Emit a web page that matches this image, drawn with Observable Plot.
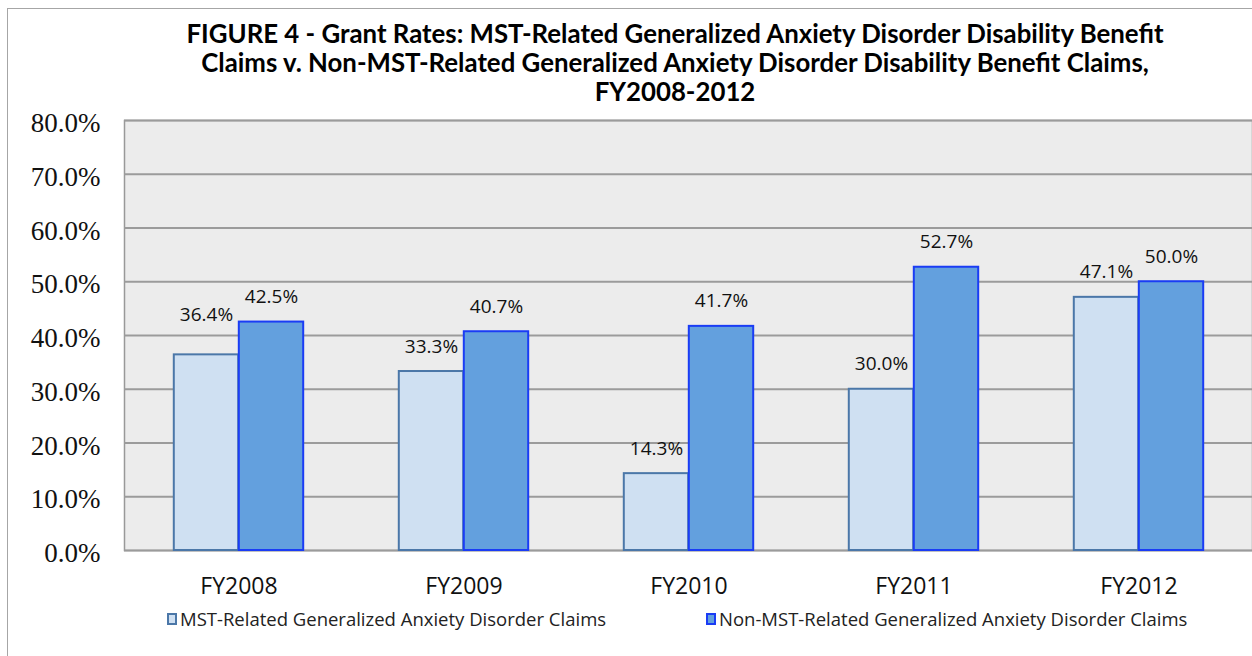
<!DOCTYPE html>
<html>
<head>
<meta charset="utf-8">
<script src="https://cdn.jsdelivr.net/npm/d3@7"></script>
<script src="https://cdn.jsdelivr.net/npm/@observablehq/plot@0.6"></script>
<style>
  html, body { margin: 0; padding: 0; background: #fff; }
  #wrap { position: relative; width: 1252px; height: 656px; overflow: hidden; }
  #border { position: absolute; left: 7px; top: 8px; width: 1260px; height: 660px; border: 1.5px solid #a6a6a6; box-sizing: border-box; }
  #title { position: absolute; left: 175px; width: 1000px; top: 19px; text-align: center;
    font-family: Lato, "Open Sans", sans-serif; font-weight: 700; font-size: 25.8px; line-height: 29px; color: #000; white-space: nowrap; }
  #chart { position: absolute; left: 0; top: 0; }
  #legend { position: absolute; top: 606px; left: 0; width: 1252px; font-family: "Open Sans", sans-serif; font-size: 18.5px; color: #222; }
  .item { position: absolute; display: flex; align-items: center; white-space: nowrap; }
  .sw { width: 10px; height: 12px; box-sizing: border-box; border: 2px solid; margin-right: 3px; }
</style>
</head>
<body>
<div id="wrap">
  <div id="border"></div>
  <div id="title"></div>
  <div id="chart"></div>
  <div id="legend"></div>
</div>
<script>
const titleLines = [
  "FIGURE 4 - Grant Rates: MST-Related Generalized Anxiety Disorder Disability Benefit",
  "Claims v. Non-MST-Related Generalized Anxiety Disorder Disability Benefit  Claims,",
  "FY2008-2012"
];
const years = ["FY2008", "FY2009", "FY2010", "FY2011", "FY2012"];
const seriesNames = [
  "MST-Related Generalized Anxiety Disorder Claims",
  "Non-MST-Related Generalized Anxiety Disorder Claims"
];
const mstValues = [36.4, 33.3, 14.3, 30.0, 47.1];
const nonMstValues = [42.5, 40.7, 41.7, 52.7, 50.0];
const yTicks = [0, 10, 20, 30, 40, 50, 60, 70, 80];

const fills = ["#cfe0f2", "#63a0de"];
const strokes = ["#4b77a8", "#1a3cf5"];

document.getElementById("title").innerHTML = titleLines.join("<br>");

const mst = years.map((y, i) => ({year: y, value: mstValues[i]}));
const non = years.map((y, i) => ({year: y, value: nonMstValues[i]}));

const W = 1252, mL = 124, mR = 0;
const step = (W - mL - mR) / years.length;
const barW = 65;
const half = step / 2;
const fmt = d => d.toFixed(1) + "%";

const chart = Plot.plot({
  width: W,
  height: 620,
  marginTop: 120,
  marginBottom: 70,
  marginLeft: mL,
  marginRight: mR,
  x: {domain: years, padding: 0, axis: null, label: null},
  y: {domain: [0, 80], axis: null, label: null},
  style: {background: "transparent", overflow: "visible"},
  marks: [
    Plot.frame({fill: "#ececec", stroke: "#999", strokeWidth: 1.5}),
    Plot.gridY(yTicks, {stroke: "#9b9b9b", strokeOpacity: 1, strokeWidth: 2}),
    Plot.barY(mst, {x: "year", y: "value", fill: fills[0], stroke: strokes[0], strokeWidth: 2,
      insetLeft: half - barW, insetRight: half}),
    Plot.barY(non, {x: "year", y: "value", fill: fills[1], stroke: strokes[1], strokeWidth: 2,
      insetLeft: half, insetRight: half - barW}),
    Plot.text(mst.filter(d => d.year !== "FY2008"), {x: "year", y: "value", text: d => fmt(d.value), dx: -barW / 2, dy: -19,
      lineAnchor: "bottom", fontFamily: "Open Sans", fontSize: 19, fill: "#111"}),
    Plot.text(mst.filter(d => d.year === "FY2008"), {x: "year", y: "value", text: d => fmt(d.value), dx: -barW / 2, dy: -34,
      lineAnchor: "bottom", fontFamily: "Open Sans", fontSize: 19, fill: "#111"}),
    Plot.text(non, {x: "year", y: "value", text: d => fmt(d.value), dx: barW / 2, dy: -19,
      lineAnchor: "bottom", fontFamily: "Open Sans", fontSize: 19, fill: "#111"}),
    Plot.axisY({ticks: yTicks, tickFormat: fmt, tickSize: 0, tickPadding: 24, dy: 3, label: null,
      fontFamily: "Liberation Serif", fontSize: 27, fill: "#111"}),
    Plot.axisX({tickSize: 0, tickPadding: 27, label: null, fontFamily: "Open Sans", fontSize: 23, fill: "#111"})
  ]
});
document.getElementById("chart").appendChild(chart);

const legend = document.getElementById("legend");
const legendX = [167, 706];
seriesNames.forEach((name, i) => {
  const it = document.createElement("div");
  it.className = "item";
  it.style.left = legendX[i] + "px";
  const sw = document.createElement("div");
  sw.className = "sw";
  sw.style.background = fills[i];
  sw.style.borderColor = strokes[i];
  const tx = document.createElement("span");
  tx.textContent = name;
  it.appendChild(sw);
  it.appendChild(tx);
  legend.appendChild(it);
});
</script>
</body>
</html>
